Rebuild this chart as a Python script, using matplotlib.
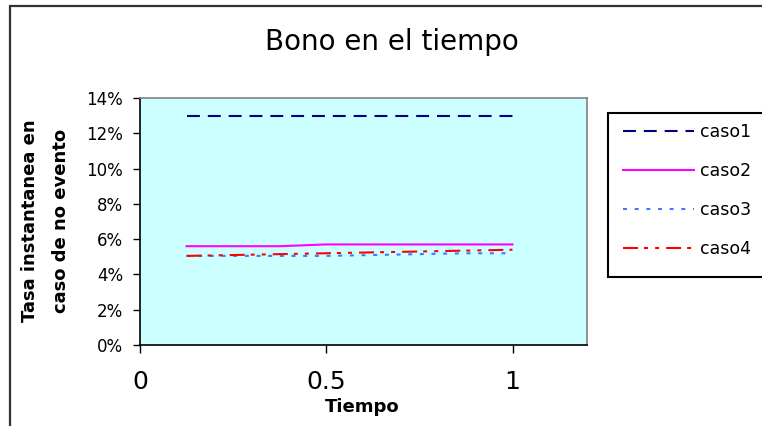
import matplotlib
matplotlib.use("Agg")
import matplotlib.pyplot as plt
from matplotlib.patches import Rectangle
from matplotlib.ticker import FuncFormatter

# Data: instantaneous no-event rate over time for four cases
tiempo = [0.125, 0.25, 0.375, 0.5, 0.625, 0.75, 0.875, 1.0]
caso1 = [0.130, 0.130, 0.130, 0.130, 0.130, 0.130, 0.130, 0.130]
caso2 = [0.056, 0.056, 0.056, 0.057, 0.057, 0.057, 0.057, 0.057]
caso3 = [0.0505, 0.0505, 0.0505, 0.0505, 0.051, 0.0515, 0.052, 0.052]
caso4 = [0.0505, 0.051, 0.0515, 0.052, 0.0525, 0.053, 0.0535, 0.054]
series_names = ["caso1", "caso2", "caso3", "caso4"]
y_ticks = [0, 0.02, 0.04, 0.06, 0.08, 0.10, 0.12, 0.14]
x_ticks = [0, 0.5, 1]
x_tick_labels = ["0", "0.5", "1"]

W, H = 762, 426
fig = plt.figure(figsize=(W / 100, H / 100), dpi=100)
fig.patch.set_facecolor("white")
plt.rcParams["font.family"] = ["DejaVu Sans"]

# outer chart border
fig.add_artist(Rectangle((10 / W, -0.1), 1.2, 1 - 6 / H + 0.1,
                         transform=fig.transFigure, fill=False,
                         edgecolor="#333333", linewidth=1.6))

ax = fig.add_axes([140 / W, 1 - 345 / H, (587 - 140) / W, (345 - 98) / H])
ax.set_facecolor("#CCFFFF")

lw = 1.5
styles = [
    dict(color="#000080", linestyle=(0, (6.2, 3.8))),
    dict(color="#FF00FF", linestyle="-"),
    dict(color="#4477FF", linestyle=(0, (1.9, 3.7))),
    dict(color="#FF0000", linestyle=(0, (7.2, 2.9, 1.9, 3.4, 1.9, 3.4))),
]
lines = []
for vals, name, st in zip([caso1, caso2, caso3, caso4], series_names, styles):
    ln, = ax.plot(tiempo, vals, linewidth=lw, label=name, **st)
    lines.append(ln)

ax.set_xlim(0, 1.2)
ax.set_ylim(0, 0.14)
ax.set_yticks(y_ticks)
ax.yaxis.set_major_formatter(FuncFormatter(lambda v, p: f"{v * 100:.0f}%"))
ax.set_xticks(x_ticks)
ax.set_xticklabels(x_tick_labels)
ax.tick_params(axis="y", direction="out", length=5, width=1, pad=7,
               labelsize=12, colors="black")
ax.tick_params(axis="x", direction="out", length=6, width=1, pad=12,
               labelsize=18, colors="black")
for s in ("left", "bottom"):
    ax.spines[s].set_color("black")
    ax.spines[s].set_linewidth(1.2)
for s in ("top", "right"):
    ax.spines[s].set_color("#808080")
    ax.spines[s].set_linewidth(1.2)

# titles
fig.text(392 / W, 1 - 42 / H, "Bono en el tiempo", ha="center", va="center",
         fontsize=20, color="black")
fig.text(362 / W, 1 - 407 / H, "Tiempo", ha="center", va="center",
         fontsize=13, fontweight="bold", color="black")
fig.text(30 / W, 1 - 221 / H, "Tasa instantanea en", ha="center", va="center",
         rotation=90, fontsize=13, fontweight="bold", color="black")
fig.text(61 / W, 1 - 221 / H, "caso de no evento", ha="center", va="center",
         rotation=90, fontsize=13, fontweight="bold", color="black")

# legend box and entries
fig.add_artist(Rectangle((608 / W, 1 - 277 / H), 0.5, (277 - 113) / H,
                         transform=fig.transFigure, fill=True,
                         facecolor="white", edgecolor="black", linewidth=1.5))
leg = fig.legend(handles=lines, loc="upper left",
                 bbox_to_anchor=(618 / W, 1 - 118 / H), frameon=False,
                 fontsize=12.5, handlelength=4.1, handletextpad=0.3,
                 labelspacing=1.2, borderpad=0.3, borderaxespad=0)

fig.savefig("out.png", dpi=100, facecolor="white")
